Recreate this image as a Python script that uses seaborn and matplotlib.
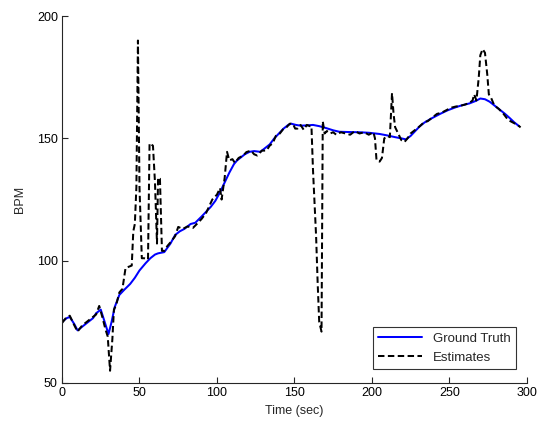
import numpy as np
import pandas as pd
import seaborn as sns
import matplotlib
matplotlib.use("Agg")
import matplotlib.pyplot as plt

# ground truth heart rate
gt_time = [0, 3, 5, 8, 10, 13, 17, 20, 22, 25, 28, 30, 32, 34, 37, 40, 44, 47, 50,
           54, 57, 60, 62, 66, 70, 73, 76, 79, 83, 86, 90, 93, 96, 99, 102, 105,
           108, 111, 113, 116, 118, 121, 124, 128, 131, 134, 137, 140, 143, 146,
           148, 151, 154, 158, 162, 166, 170, 175, 179, 185, 192, 198, 205, 210,
           215, 219, 222, 225, 228, 231, 234, 238, 244, 249, 254, 258, 263, 267,
           270, 273, 276, 280, 283, 286, 289, 292, 295]
gt_bpm = [75, 76.5, 77, 74, 71.5, 73, 75, 76.5, 78.5, 80, 74, 70, 75, 81, 86, 88,
          90.5, 93, 96, 99, 101, 102.5, 103, 103.5, 107, 110.5, 112, 113, 115,
          115.5, 118, 120, 122, 124.5, 128, 132, 136, 139.5, 141, 142.5, 143.5,
          144.5, 144.8, 144.5, 146, 147.5, 150, 152, 154, 155.5, 156, 155.5,
          155.2, 155.3, 155.5, 155, 154.3, 153.3, 152.7, 152.6, 152.5, 152.3,
          151.8, 151.2, 150.5, 150, 149.6, 151, 153, 155, 156.5, 158, 160, 161.5,
          162.7, 163.5, 164.3, 165.3, 166.3, 166, 165, 163, 161.5, 160, 158.3,
          156.5, 155]

# estimated heart rate
est_time = [0, 3, 5, 8, 10, 13, 16, 19, 22, 24, 26, 28, 29.5, 31, 32.5, 33.5, 35,
            37, 39, 41, 43, 45, 46, 47, 48, 49, 50, 51.5, 53, 55.5, 56.5, 58.7, 60,
            61.3, 62, 63.2, 64.5, 66, 68, 70, 73, 75, 78, 81, 84.5, 87, 90, 93, 97,
            100, 102, 103, 105, 106.5, 108, 110, 111.6, 114, 117, 119, 122, 124,
            126, 129, 132, 134, 136, 138, 140.6, 143, 145, 147, 149, 150.5, 152,
            154, 156, 158, 160, 161, 162, 164, 165, 166, 167.5, 168.3, 169.5, 171,
            173, 175, 177, 180, 183, 186, 189, 192, 195, 198, 201, 202, 203, 205,
            206.5, 208, 210, 211.6, 213, 214, 215, 217, 219, 221, 223, 225, 228,
            231, 234, 236, 239, 242, 245, 248, 251, 254, 257, 260, 263, 265, 266,
            267.5, 269, 270, 271.5, 273, 274.5, 275.5, 277, 279, 282, 285, 288,
            291, 294, 296]
est_bpm = [74.5, 77, 77.5, 73.5, 71, 73.5, 75, 76.5, 78, 81.5, 77, 72, 69, 55, 68,
           80, 82, 87, 88.5, 97, 97.5, 98, 112, 115, 130, 190, 130, 101, 101,
           100.5, 148, 147, 132, 107, 134, 133.5, 104, 104, 106, 107.5, 110, 113.8,
           113, 114, 113.4, 115, 117, 119.5, 125, 127, 129.7, 125, 134, 144.5, 141,
           141.5, 140, 142, 143, 144.4, 145, 143.5, 143, 145, 145, 147, 148, 151,
           152, 154, 154.6, 156, 156, 154, 154, 155.5, 153.5, 155.5, 155, 155, 137,
           110, 91, 75, 71, 157, 152, 153, 152, 152.5, 151.5, 152.5, 152, 151.5,
           153, 152, 152.5, 151.5, 152.5, 150, 141, 140.5, 142, 150, 151, 150.5,
           168.5, 160, 154.6, 152, 149.3, 148.5, 150, 152, 153.5, 155, 156.8, 157,
           158.5, 160, 160.5, 161.5, 162.5, 163, 163.3, 163.8, 164.5, 165.5, 168,
           165.5, 175, 184, 186.5, 185, 176, 168, 166.5, 163.5, 162, 160, 157.5,
           156.5, 155.5, 154.5]

df = pd.concat([
    pd.DataFrame({"time": gt_time, "bpm": gt_bpm, "series": "Ground Truth"}),
    pd.DataFrame({"time": est_time, "bpm": est_bpm, "series": "Estimates"}),
], ignore_index=True)

sns.set_style("ticks")
plt.rcParams["font.family"] = ["Liberation Sans", "DejaVu Sans"]

fig = plt.figure(figsize=(5.37, 4.23), dpi=100)
ax = fig.add_axes([0.1155, 0.0946, 0.8655, 0.8674])

sns.lineplot(data=df, x="time", y="bpm", hue="series", style="series",
             palette={"Ground Truth": "#0000ff", "Estimates": "black"},
             dashes={"Ground Truth": "", "Estimates": (3.2, 1.7)},
             estimator=None, sort=True, linewidth=1.45, ax=ax)

ax.set_xlim(0, 300)
ax.set_ylim(50, 200)
ax.set_xticks(np.arange(0, 301, 50))
ax.set_yticks([50, 100, 150, 200])
ax.tick_params(direction="in", length=4, width=0.8, colors="#262626",
               labelsize=9, labelcolor="black", pad=3)
sns.despine(ax=ax)
for s in ["left", "bottom"]:
    ax.spines[s].set_color("#262626")
    ax.spines[s].set_linewidth(0.8)

ax.set_xlabel("Time (sec)", fontsize=9, labelpad=4)
ax.set_ylabel("BPM", fontsize=9, labelpad=8)

leg = ax.legend(loc="lower right", bbox_to_anchor=(0.99, 0.02), fontsize=9.5,
                frameon=True, fancybox=False, edgecolor="black",
                handlelength=3.3, borderpad=0.4, labelspacing=0.5)
leg.get_frame().set_linewidth(0.8)

fig.savefig("out.png", dpi=100)
